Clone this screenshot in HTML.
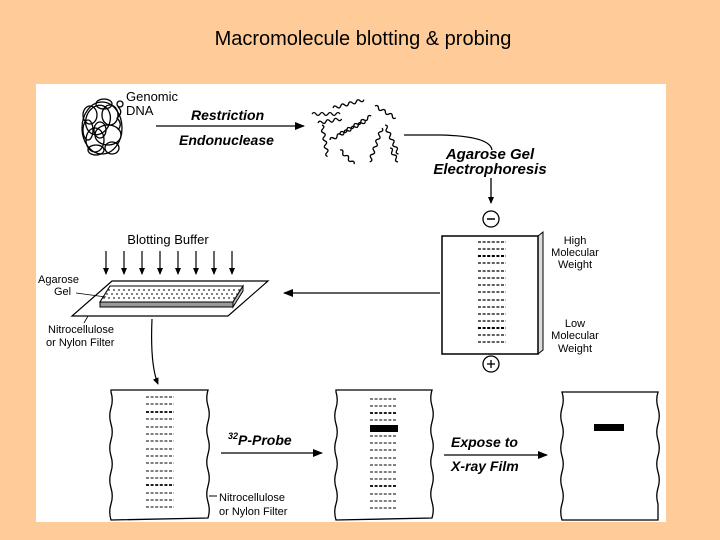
<!DOCTYPE html>
<html><head><meta charset="utf-8"><style>
html,body{margin:0;padding:0;background:#FFCC99;}
svg{display:block;font-family:"Liberation Sans",Arial,sans-serif;}
</style></head><body>
<svg width="720" height="540" viewBox="0 0 720 540" xmlns="http://www.w3.org/2000/svg">
<defs>
<marker id="ah" markerWidth="10" markerHeight="8" refX="9" refY="4" orient="auto" markerUnits="userSpaceOnUse">
<path d="M0,0 L10,4 L0,8 z" fill="#000"/></marker>
<marker id="sh" markerWidth="7" markerHeight="8" refX="6" refY="4" orient="auto" markerUnits="userSpaceOnUse">
<path d="M0,1 L7,4 L0,7 z" fill="#000"/></marker>
</defs>
<rect width="720" height="540" fill="#FFCC99"/>
<text x="363" y="45" font-size="20" text-anchor="middle" fill="#000">Macromolecule blotting &amp; probing</text>
<rect x="36" y="84" width="630" height="438" fill="#fff"/>

<!-- DNA blob -->
<g fill="none" stroke="#000" stroke-width="1.3">
<ellipse cx="102" cy="128" rx="20" ry="26"/>
<ellipse cx="98" cy="120" rx="12" ry="15" transform="rotate(20 98 120)"/>
<ellipse cx="108" cy="135" rx="13" ry="10"/>
<ellipse cx="95" cy="140" rx="9" ry="12"/>
<ellipse cx="110" cy="115" rx="8" ry="10"/>
<ellipse cx="100" cy="130" rx="6" ry="8"/>
<ellipse cx="90" cy="115" rx="7" ry="9"/>
<ellipse cx="112" cy="148" rx="7" ry="6"/>
<ellipse cx="104" cy="104" rx="8" ry="5"/>
<ellipse cx="88" cy="130" rx="5" ry="10"/>
<ellipse cx="96" cy="150" rx="8" ry="5"/>
<circle cx="120" cy="104" r="3"/>
<path d="M118 107 Q124 112 117 118 Q123 124 118 130"/>
</g>
<text x="126" y="101" font-size="13">Genomic</text>
<text x="126" y="115" font-size="13">DNA</text>
<line x1="156" y1="126" x2="304" y2="126" stroke="#000" stroke-width="1.3" marker-end="url(#ah)"/>
<text x="191" y="120" font-size="14" font-weight="bold" font-style="italic">Restriction</text>
<text x="179" y="145" font-size="14" font-weight="bold" font-style="italic">Endonuclease</text>

<!-- fragments -->
<g fill="none" stroke="#000" stroke-width="1.3">
<path d="M312 114 q2 -3 4 0 t4 0 t4 0 t4 0 t4 0 t4 0 t4 0"/>
<path d="M333 108 q2 -3 4 0 t4 0 t4 0 t4 0 t4 0 t4 0 t4 0 t4 0" transform="rotate(-15 333 108)"/>
<path d="M318 123 q2 -3 4 0 t4 0 t4 0 t4 0 t4 0 t4 0" transform="rotate(-10 318 123)"/>
<path d="M375 106 q2 -3 4 0 t4 0 t4 0 t4 0 t4 0 t4 0" transform="rotate(30 375 106)"/>
<path d="M340 134 q2 -3 4 0 t4 0 t4 0 t4 0 t4 0 t4 0 t4 0 t4 0 t4 0" transform="rotate(-30 340 134)"/>
<path d="M330 140 q2 -3 4 0 t4 0 t4 0 t4 0 t4 0 t4 0 t4 0 t4 0 t4 0 t4 0" transform="rotate(-28 330 140)"/>
<path d="M322 125 q2 -3 4 0 t4 0 t4 0 t4 0 t4 0 t4 0 t4 0 t4 0" transform="rotate(80 322 125)"/>
<path d="M340 150 q2 -3 4 0 t4 0 t4 0 t4 0 t4 0" transform="rotate(45 340 150)"/>
<path d="M382 128 q2 -3 4 0 t4 0 t4 0 t4 0 t4 0 t4 0 t4 0 t4 0 t4 0" transform="rotate(110 382 128)"/>
<path d="M385 125 q2 -3 4 0 t4 0 t4 0 t4 0 t4 0 t4 0 t4 0 t4 0" transform="rotate(65 385 125)"/>
<path d="M390 148 q2 -3 4 0 t4 0 t4 0 t4 0" transform="rotate(60 390 148)"/>
</g>
<path d="M404 135 L440 135 Q490 136 492 150" fill="none" stroke="#000" stroke-width="1.3"/>
<text x="490" y="159" font-size="15" font-weight="bold" font-style="italic" text-anchor="middle">Agarose Gel</text>
<text x="490" y="174" font-size="15" font-weight="bold" font-style="italic" text-anchor="middle">Electrophoresis</text>
<line x1="491" y1="178" x2="491" y2="203" stroke="#000" stroke-width="1.3" marker-end="url(#sh)"/>
<circle cx="491" cy="219" r="8" fill="none" stroke="#000" stroke-width="1.3"/>
<line x1="487" y1="219" x2="495" y2="219" stroke="#000" stroke-width="1.5"/>

<!-- gel -->
<path d="M442 236 L538 236 L543 232 L543 350 L538 354" fill="#ddd" stroke="#000" stroke-width="1"/>
<rect x="442" y="236" width="96" height="118" fill="#fff" stroke="#000" stroke-width="1.5"/>
<g stroke="#000" stroke-width="1.2" stroke-dasharray="3,1.6">
<line x1="478" y1="242" x2="506" y2="242"/><line x1="478" y1="249" x2="506" y2="249"/>
<line x1="478" y1="256" x2="506" y2="256" stroke-width="2"/><line x1="478" y1="263" x2="506" y2="263"/>
<line x1="478" y1="271" x2="506" y2="271"/><line x1="478" y1="278" x2="506" y2="278"/>
<line x1="478" y1="285" x2="506" y2="285"/><line x1="478" y1="292" x2="506" y2="292"/>
<line x1="478" y1="300" x2="506" y2="300"/><line x1="478" y1="307" x2="506" y2="307"/>
<line x1="478" y1="314" x2="506" y2="314"/><line x1="478" y1="321" x2="506" y2="321"/>
<line x1="478" y1="328" x2="506" y2="328" stroke-width="2"/><line x1="478" y1="335" x2="506" y2="335"/>
<line x1="478" y1="342" x2="506" y2="342"/>
</g>
<g font-size="11" text-anchor="middle">
<text x="575" y="244">High</text><text x="575" y="256">Molecular</text><text x="575" y="268">Weight</text>
<text x="575" y="327">Low</text><text x="575" y="339">Molecular</text><text x="575" y="352">Weight</text>
</g>
<circle cx="491" cy="364" r="8" fill="none" stroke="#000" stroke-width="1.3"/>
<line x1="487" y1="364" x2="495" y2="364" stroke="#000" stroke-width="1.3"/>
<line x1="491" y1="360" x2="491" y2="368" stroke="#000" stroke-width="1.3"/>

<line x1="440" y1="293" x2="284" y2="293" stroke="#000" stroke-width="1.3" marker-end="url(#ah)"/>

<!-- blotting -->
<text x="168" y="244" font-size="13" text-anchor="middle">Blotting Buffer</text>
<g stroke="#000" stroke-width="1.2">
<line x1="106" y1="251" x2="106" y2="274" marker-end="url(#sh)"/>
<line x1="124" y1="251" x2="124" y2="274" marker-end="url(#sh)"/>
<line x1="142" y1="251" x2="142" y2="274" marker-end="url(#sh)"/>
<line x1="160" y1="251" x2="160" y2="274" marker-end="url(#sh)"/>
<line x1="178" y1="251" x2="178" y2="274" marker-end="url(#sh)"/>
<line x1="196" y1="251" x2="196" y2="274" marker-end="url(#sh)"/>
<line x1="214" y1="251" x2="214" y2="274" marker-end="url(#sh)"/>
<line x1="232" y1="251" x2="232" y2="274" marker-end="url(#sh)"/>
</g>
<path d="M112 281 L268 281 L228 316 L72 316 Z" fill="#fff" stroke="#000" stroke-width="1.2"/>
<path d="M110 286 L243 286 L233 302 L100 302 Z" fill="#fff" stroke="#000" stroke-width="1.1"/>
<path d="M100 302 L233 302 L233 307 L100 307 Z" fill="#999" stroke="#000" stroke-width="1"/>
<path d="M233 302 L243 286 L243 291 L233 307 Z" fill="#bbb" stroke="#000" stroke-width="1"/>
<g stroke="#000" stroke-width="0.9" stroke-dasharray="2,3">
<line x1="108" y1="290" x2="240" y2="290"/><line x1="106" y1="294" x2="238" y2="294"/><line x1="103" y1="298" x2="235" y2="298"/>
</g>
<text x="38" y="283" font-size="11">Agarose</text>
<text x="54" y="295" font-size="11">Gel</text>
<line x1="76" y1="293" x2="106" y2="297" stroke="#000" stroke-width="0.8"/>
<text x="48" y="333" font-size="11">Nitrocellulose</text>
<text x="46" y="346" font-size="11">or Nylon Filter</text>
<line x1="84" y1="323" x2="88" y2="316" stroke="#000" stroke-width="0.8"/>
<path d="M152 319 Q150 365 158 384" fill="none" stroke="#000" stroke-width="1.2" marker-end="url(#sh)"/>

<!-- bottom membranes -->
<g fill="#fff" stroke="#000" stroke-width="1.3">
<path d="M111 390 L208 390 q-2.5 8 0 16 t0 16 t0 16 t0 16 t0 16 t0 16 t0 16 t0 16 L111 520 q-2.5 -8 0 -16 t0 -16 t0 -16 t0 -16 t0 -16 t0 -16 t0 -16 t0 -16 Z"/>
<path d="M336 390 L432 390 q-2.5 8 0 16 t0 16 t0 16 t0 16 t0 16 t0 16 t0 16 t0 16 L336 520 q-2.5 -8 0 -16 t0 -16 t0 -16 t0 -16 t0 -16 t0 -16 t0 -16 t0 -16 Z"/>
<path d="M562 392 L658 392 q-2.5 8 0 16 t0 16 t0 16 t0 16 t0 16 t0 16 t0 16 L658 520 L562 520 q-2.5 -8 0 -16 t0 -16 t0 -16 t0 -16 t0 -16 t0 -16 t0 -16 t0 -16 Z"/>
</g>
<g stroke="#000" stroke-width="1.1" stroke-dasharray="3,1.6">
<line x1="146" y1="397" x2="174" y2="397"/><line x1="146" y1="404" x2="174" y2="404"/><line x1="146" y1="412" x2="174" y2="412" stroke-width="1.8"/>
<line x1="146" y1="419" x2="174" y2="419"/><line x1="146" y1="427" x2="174" y2="427"/><line x1="146" y1="434" x2="174" y2="434"/>
<line x1="146" y1="441" x2="174" y2="441"/><line x1="146" y1="449" x2="174" y2="449"/><line x1="146" y1="456" x2="174" y2="456"/>
<line x1="146" y1="463" x2="174" y2="463"/><line x1="146" y1="471" x2="174" y2="471"/><line x1="146" y1="478" x2="174" y2="478"/>
<line x1="146" y1="485" x2="174" y2="485" stroke-width="1.8"/><line x1="146" y1="493" x2="174" y2="493"/><line x1="146" y1="500" x2="174" y2="500"/>
<line x1="146" y1="507" x2="174" y2="507"/>
<line x1="370" y1="399" x2="397" y2="399"/><line x1="370" y1="406" x2="397" y2="406"/><line x1="370" y1="413" x2="397" y2="413" stroke-width="1.8"/>
<line x1="370" y1="420" x2="397" y2="420"/>
<line x1="370" y1="436" x2="397" y2="436"/><line x1="370" y1="443" x2="397" y2="443"/><line x1="370" y1="450" x2="397" y2="450"/>
<line x1="370" y1="458" x2="397" y2="458"/><line x1="370" y1="465" x2="397" y2="465"/><line x1="370" y1="472" x2="397" y2="472"/>
<line x1="370" y1="479" x2="397" y2="479"/><line x1="370" y1="486" x2="397" y2="486" stroke-width="1.8"/><line x1="370" y1="494" x2="397" y2="494"/>
<line x1="370" y1="501" x2="397" y2="501"/><line x1="370" y1="508" x2="397" y2="508"/>
</g>
<rect x="370" y="425" width="28" height="7" fill="#000"/>
<rect x="594" y="424" width="30" height="7" fill="#000"/>
<line x1="209" y1="496" x2="217" y2="496" stroke="#000" stroke-width="1"/>
<text x="219" y="501" font-size="11">Nitrocellulose</text>
<text x="219" y="515" font-size="11">or Nylon Filter</text>
<text x="228" y="445" font-size="14" font-weight="bold" font-style="italic"><tspan font-size="9" dy="-6">32</tspan><tspan dy="6">P-Probe</tspan></text>
<line x1="221" y1="453" x2="322" y2="453" stroke="#000" stroke-width="1.3" marker-end="url(#ah)"/>
<text x="451" y="447" font-size="14" font-weight="bold" font-style="italic">Expose to</text>
<line x1="444" y1="455" x2="547" y2="455" stroke="#000" stroke-width="1.3" marker-end="url(#ah)"/>
<text x="451" y="471" font-size="14" font-weight="bold" font-style="italic">X-ray Film</text>
</svg>
</body></html>
